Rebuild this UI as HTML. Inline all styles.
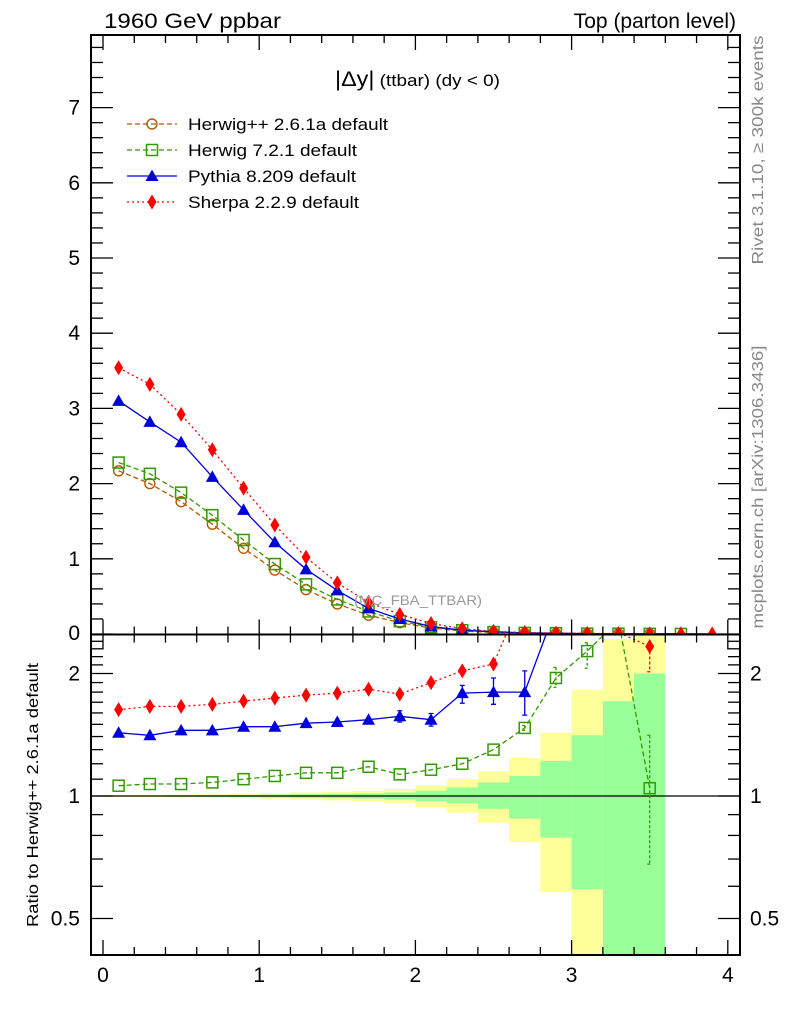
<!DOCTYPE html>
<html><head><meta charset="utf-8"><style>
html,body{margin:0;padding:0;background:#fff}
svg{display:block;font-family:"Liberation Sans",Arial,sans-serif}
</style></head><body>
<svg id="chart" width="786" height="1024" xmlns="http://www.w3.org/2000/svg">
<rect width="786" height="1024" fill="#fff"/>
<g id="bands"></g>
<g id="marks"></g>
<g id="axes"></g>
<text x="104" y="28" font-size="21" textLength="177" lengthAdjust="spacingAndGlyphs">1960 GeV ppbar</text>
<text x="736" y="28" font-size="21" text-anchor="end">Top (parton level)</text>
<text x="335" y="86" font-size="17" textLength="165" lengthAdjust="spacingAndGlyphs"><tspan font-size="21">|Δy|</tspan> (ttbar) (dy &lt; 0)</text>
<text x="354" y="605" font-size="14" fill="#999" textLength="128" lengthAdjust="spacingAndGlyphs">(MC_FBA_TTBAR)</text>
<text transform="translate(763,150) rotate(-90)" font-size="16" fill="#888" text-anchor="middle" textLength="229" lengthAdjust="spacingAndGlyphs">Rivet 3.1.10, ≥ 300k events</text>
<text transform="translate(763,487) rotate(-90)" font-size="16" fill="#888" text-anchor="middle" textLength="283" lengthAdjust="spacingAndGlyphs">mcplots.cern.ch [arXiv:1306.3436]</text>
<text transform="translate(38,795) rotate(-90)" font-size="16" text-anchor="middle" textLength="264" lengthAdjust="spacingAndGlyphs">Ratio to Herwig++ 2.6.1a default</text>
<g id="legend"></g>
</svg>
<script>
const binEdges=[0,0.2,0.4,0.6,0.8,1.0,1.2,1.4,1.6,1.8,2.0,2.2,2.4,2.6,2.8,3.0,3.2,3.4,3.6,3.8,4.0];
const herwigpp=[2.17,2.0,1.76,1.46,1.14,0.85,0.59,0.40,0.25,0.15,0.08,0.04,0.02,0.01,0.005,0.003,0.002,0.001,null,null];
const herwig7=[2.28,2.13,1.88,1.58,1.25,0.93,0.66,0.46,0.30,0.17,0.09,0.05,0.025,0.015,0.01,0.005,0.004,0.002,0.001,null];
const pythia=[3.1,2.82,2.55,2.09,1.65,1.22,0.86,0.58,0.34,0.20,0.10,0.05,0.03,0.015,0.01,0.005,0.004,0.003,0.002,0.001];
const sherpa=[3.54,3.32,2.92,2.45,1.94,1.45,1.02,0.68,0.42,0.26,0.14,0.07,0.035,0.02,0.012,0.008,0.005,0.004,0.003,0.002];
const ratioHerwig7=[1.06,1.07,1.07,1.08,1.10,1.12,1.14,1.14,1.18,1.13,1.16,1.20,1.30,1.47,1.95,2.27,2.7,1.045,null,null];
const ratioPythia=[1.43,1.41,1.45,1.45,1.48,1.48,1.51,1.52,1.54,1.57,1.54,1.79,1.80,1.80,2.9,null,null,null,null,null];
const ratioSherpa=[1.63,1.66,1.66,1.68,1.71,1.74,1.77,1.79,1.83,1.78,1.90,2.03,2.11,3.2,null,null,null,2.33,null,null];
const ratioPythiaErrLo=[0,0,0,0,0,0,0,0,0,0.05,0.055,0.10,0.12,0.22,0,0,0,0,0,0];
const ratioPythiaErrHi=[0,0,0,0,0,0,0,0,0,0.05,0.055,0.08,0.15,0.23,0,0,0,0,0,0];
const ratioHerwig7ErrLo=[0,0,0,0,0,0,0,0,0,0,0,0,0,0.02,0.10,0.21,0,0.365,0,0];
const ratioHerwig7ErrHi=[0,0,0,0,0,0,0,0,0,0,0,0,0,0.02,0.12,0.11,0,0.365,0,0];
const ratioSherpaErrLo=[0,0,0,0,0,0,0,0,0,0,0,0,0,0,0,0,0,0.31,0,0];
const yellowUp=[1.005,1.007,1.008,1.01,1.012,1.015,1.02,1.025,1.03,1.04,1.06,1.10,1.15,1.24,1.43,1.82,2.43,3,null,null];
const yellowLo=[0.995,0.993,0.992,0.99,0.988,0.985,0.98,0.975,0.97,0.96,0.94,0.91,0.86,0.77,0.58,0.3,0.3,0.3,null,null];
const greenUp=[1.002,1.003,1.004,1.005,1.006,1.008,1.01,1.012,1.015,1.02,1.03,1.05,1.08,1.12,1.22,1.41,1.71,2.0,null,null];
const greenLo=[0.998,0.997,0.996,0.995,0.994,0.992,0.99,0.988,0.985,0.98,0.97,0.96,0.93,0.88,0.79,0.59,0.3,0.3,null,null];
const mainTicks=[0,1,2,3,4,5,6,7];
const ratioTicks=[0.5,1,2];
const xTicks=[0,1,2,3,4];

const NS="http://www.w3.org/2000/svg";
const L=91,R=740,T=35,MB=634.5,RB=955;
const X=v=>103+156.2*v;
const Y=v=>634-75.2*v;
const YR=r=>796-122.5*Math.log2(r);
function mk(tag,attrs,parent){const e=document.createElementNS(NS,tag);for(const k in attrs)e.setAttribute(k,attrs[k]);parent.appendChild(e);return e;}
const svg=document.getElementById('chart');
const defs=mk('defs',{},svg);
const c1=mk('clipPath',{id:'cm'},defs);mk('rect',{x:L,y:T-8,width:R-L,height:MB-T+8},c1);
const c2=mk('clipPath',{id:'cr'},defs);mk('rect',{x:L,y:MB,width:R-L,height:RB-MB},c2);
const bands=document.getElementById('bands');bands.setAttribute('clip-path','url(#cr)');
const marks=document.getElementById('marks');
const axes=document.getElementById('axes');
const centers=binEdges.slice(0,-1).map((e,i)=>(e+binEdges[i+1])/2);

for(let i=0;i<centers.length;i++){
  if(yellowUp[i]==null)continue;
  const x0=X(binEdges[i]),x1=X(binEdges[i+1]);
  let r=mk('rect',{x:x0,y:YR(yellowUp[i]),width:x1-x0,height:YR(yellowLo[i])-YR(yellowUp[i]),fill:'#ffff99'},bands);
  
  
  r=mk('rect',{x:x0,y:YR(greenUp[i]),width:x1-x0,height:YR(greenLo[i])-YR(greenUp[i]),fill:'#99ff99'},bands);
  
  
}
let ref=mk('line',{x1:L,x2:R,y1:YR(1),y2:YR(1),stroke:'#000','stroke-width':1.2},bands);



const series=[
 {name:'herwigpp',color:'#b35900',dash:'5,3',marker:'circle',main:herwigpp,ratio:null},
 {name:'herwig7',color:'#339900',dash:'5,3',marker:'square',main:herwig7,ratio:ratioHerwig7,elo:ratioHerwig7ErrLo,ehi:ratioHerwig7ErrHi},
 {name:'pythia',color:'#0000dd',dash:'',marker:'triangle',main:pythia,ratio:ratioPythia,elo:ratioPythiaErrLo,ehi:ratioPythiaErrHi},
 {name:'sherpa',color:'#ff0000',dash:'2,3',marker:'diamond',main:sherpa,ratio:ratioSherpa,elo:ratioSherpaErrLo,ehi:ratioSherpaErrLo.map(()=>0)}
];
function marker(s,x,y,g){
  let e;
  if(s.marker==='circle')e=mk('circle',{cx:x,cy:y,r:5,fill:'none',stroke:s.color,'stroke-width':1.4},g);
  else if(s.marker==='square')e=mk('rect',{x:x-5.5,y:y-5.5,width:11,height:11,fill:'none',stroke:s.color,'stroke-width':1.5},g);
  else if(s.marker==='triangle')e=mk('path',{d:`M${x},${y-6.5}L${x+6.5},${y+5}L${x-6.5},${y+5}Z`,fill:s.color},g);
  else e=mk('path',{d:`M${x},${y-7.5}L${x+4.5},${y}L${x},${y+7.5}L${x-4.5},${y}Z`,fill:s.color},g);
  
  
}
function drawLine(s,vals,yf,g){
  let d='';let pen=false;
  vals.forEach((v,i)=>{if(v!=null){d+=(pen?'L':'M')+X(centers[i]).toFixed(1)+','+yf(v).toFixed(1);pen=true;}});
  const e=mk('path',{d:d,fill:'none',stroke:s.color,'stroke-width':1.3,'stroke-dasharray':s.dash},g);
  
  
}
const gm=mk('g',{'clip-path':'url(#cm)'},marks);


series.forEach(s=>{
  drawLine(s,s.main,Y,gm);
  s.main.forEach((v,i)=>{if(v!=null)marker(s,X(centers[i]),Y(v),gm);});
});
const gr=mk('g',{'clip-path':'url(#cr)'},marks);


series.forEach(s=>{
  if(!s.ratio)return;
  drawLine(s,s.ratio,YR,gr);
  s.ratio.forEach((v,i)=>{
    if(v==null)return;
    const x=X(centers[i]);
    if(s.elo[i]||s.ehi[i]){
      const y1=YR(v+s.ehi[i]),y2=YR(v-s.elo[i]);
      const e=mk('path',{d:`M${x},${y1}L${x},${y2}M${x-2.5},${y1}L${x+2.5},${y1}M${x-2.5},${y2}L${x+2.5},${y2}`,stroke:s.color,'stroke-width':1.3,fill:'none','stroke-dasharray':s.name==='pythia'?'':'3,2'},gr);
      
      
    }
    marker(s,x,YR(v),gr);
  });
});
[[T,MB],[MB,RB]].forEach(([t,b])=>{
  const f=mk('rect',{x:L,y:t,width:R-L,height:b-t,fill:'none',stroke:'#000','stroke-width':2},axes);
  
  
});
function tk(x1,y1,x2,y2){mk('line',{x1,y1,x2,y2,stroke:'#000','stroke-width':1.3},axes);}
for(let v=0;v<=4.001;v+=0.2){
  const x=X(v);const maj=Math.abs(v-Math.round(v))<1e-6;
  const len=maj?15:8;
  [T,MB].forEach(t=>tk(x,t,x,t+len));
  [MB,RB].forEach(b=>tk(x,b,x,b-len));
}
xTicks.forEach(v=>{const t=mk('text',{x:X(v),y:982,'font-size':21,'text-anchor':'middle'},axes);t.textContent=v;
  });
for(let v=0;v<=7.81;v+=0.2){
  const y=Y(v);const maj=Math.abs(v-Math.round(v))<1e-6;const len=maj?22:12;
  if(y<T)continue;tk(L,y,L+len,y);tk(R,y,R-len,y);
}
mainTicks.forEach(v=>{if(v===0)return;const t=mk('text',{x:80,y:Y(v)+7,'font-size':21,'text-anchor':'end'},axes);t.textContent=v;
  });
const z=mk('text',{x:80,y:640,'font-size':21,'text-anchor':'end'},axes);z.textContent='0';
[0.5,0.6,0.7,0.8,0.9,1,1.1,1.2,1.3,1.4,1.5,1.6,1.7,1.8,1.9,2,2.1,2.2,2.3,2.4,2.5].forEach(v=>{
  const y=YR(v);if(y<MB||y>RB)return;const maj=ratioTicks.includes(v);const len=maj?22:12;
  tk(L,y,L+len,y);tk(R,y,R-len,y);
});
ratioTicks.forEach(v=>{
  [[80,'end'],[750,'start']].forEach(([x,a])=>{
    const t=mk('text',{x:x,y:YR(v)+7,'font-size':21,'text-anchor':a},axes);t.textContent=v;
    
  });
});
const lg=document.getElementById('legend');
const labels=['Herwig++ 2.6.1a default','Herwig 7.2.1 default','Pythia 8.209 default','Sherpa 2.2.9 default'];
const labelLens=[200,169,168,171];
series.forEach((s,i)=>{
  const y=124+26*i;
  const g=mk('g',{},lg);
  
  
  mk('line',{x1:127,x2:177,y1:y,y2:y,stroke:s.color,'stroke-width':1.3,'stroke-dasharray':s.dash},g);
  marker(s,152,y,g);
  const t=mk('text',{x:188,y:y+6,'font-size':17,textLength:labelLens[i],lengthAdjust:'spacingAndGlyphs'},g);t.textContent=labels[i];
});
</script>
</body></html>
